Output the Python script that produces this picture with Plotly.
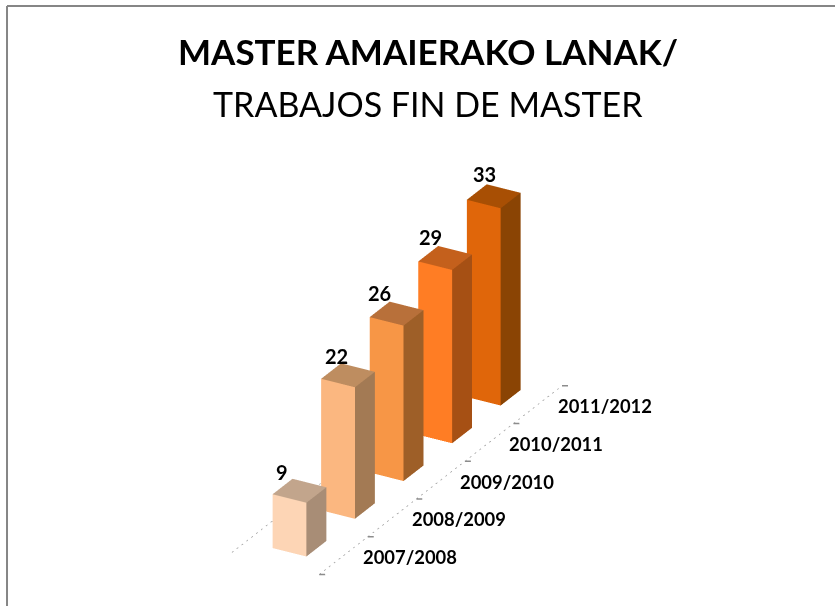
import math
import plotly.graph_objects as go

CATEGORIES = ["2007/2008", "2008/2009", "2009/2010", "2010/2011", "2011/2012"]
VALUES = [9, 22, 26, 29, 33]
FRONT = ["#FDD5B5", "#FBB780", "#F79646", "#FF7D24", "#E0660A"]
SIDE = ["#A88D76", "#A37A54", "#9E5F28", "#A65014", "#8A4404"]
TOP = ["#C2A58C", "#BE8D60", "#B8703A", "#C4601C", "#A84F04"]
TITLE_1 = "MASTER AMAIERAKO LANAK/"
TITLE_2 = "TRABAJOS FIN DE MASTER"

GAP = 0.295
DEPTH = 0.41
X_L, X_R = -0.78, 1.80
XR = [-0.9, 2.0]
YR = [-0.05, 5.1]
ZR = [0, 40]
PX = (39.1, 98.7, 6.69)
EYE_D = 1.0
phi = math.radians(26.2)
beta = math.radians(60.4)
LABEL_DX = [-17, -11, -17, -15, -9]
LABEL_DY = [19, 19, 20, 21, 22]

fig = go.Figure()
FACES = [(0, 1, 2), (0, 2, 3), (1, 5, 6), (1, 6, 2), (3, 2, 6), (3, 6, 7)]
for i, v in enumerate(VALUES):
    y0, y1 = i + GAP, i + GAP + DEPTH
    xs = [0, 1, 1, 0, 0, 1, 1, 0]
    ys = [y0, y0, y0, y0, y1, y1, y1, y1]
    zs = [0, 0, v, v, 0, 0, v, v]
    fig.add_trace(go.Mesh3d(
        x=xs, y=ys, z=zs,
        i=[f[0] for f in FACES], j=[f[1] for f in FACES], k=[f[2] for f in FACES],
        facecolor=[FRONT[i]] * 2 + [SIDE[i]] * 2 + [TOP[i]] * 2,
        flatshading=True,
        lighting=dict(ambient=1, diffuse=0, specular=0, fresnel=0, roughness=1),
        hoverinfo="skip", showscale=False))

n = len(CATEGORIES)
for xv in (X_L, X_R):
    fig.add_trace(go.Scatter3d(x=[xv, xv], y=[0, n], z=[0, 0], mode="lines",
                               line=dict(color="#A0A0A0", width=1.5, dash="dash"),
                               hoverinfo="skip", showlegend=False))
for t in range(n + 1):
    fig.add_trace(go.Scatter3d(x=[X_R, X_R + 0.1335], y=[t, t + 0.03], z=[0, 0], mode="lines",
                               line=dict(color="#8C8C8C", width=3),
                               hoverinfo="skip", showlegend=False))

ann = []
for i, v in enumerate(VALUES):
    ann.append(dict(x=0.5, y=i + GAP + DEPTH / 2, z=v, text="<b>%d</b>" % v, showarrow=False,
                    xshift=LABEL_DX[i], yshift=LABEL_DY[i],
                    font=dict(family="Lato", size=20, color="#000000")))
    ann.append(dict(x=X_R, y=i + 0.5, z=0, text="<b>%s</b>" % CATEGORIES[i], showarrow=False,
                    xshift=67, yshift=-1.5, font=dict(family="Lato", size=18.4, color="#000000")))

k = 258.0
fig.update_layout(
    width=835, height=606, margin=dict(l=0, r=0, t=0, b=0), showlegend=False,
    paper_bgcolor="white",
    scene=dict(
        domain=dict(x=[0, 0.9566], y=[0, 0.849]),
        xaxis=dict(visible=False, range=XR), yaxis=dict(visible=False, range=YR),
        zaxis=dict(visible=False, range=ZR),
        bgcolor="rgba(0,0,0,0)", aspectmode="manual",
        aspectratio=dict(x=PX[0] * (XR[1] - XR[0]) / k, y=PX[1] * (YR[1] - YR[0]) / k,
                         z=PX[2] * (ZR[1] - ZR[0]) / k),
        camera=dict(projection=dict(type="orthographic"), up=dict(x=0, y=0, z=1),
                    center=dict(x=0, y=0, z=0),
                    eye=dict(x=EYE_D * math.cos(phi) * math.cos(beta),
                             y=-EYE_D * math.cos(phi) * math.sin(beta),
                             z=EYE_D * math.sin(phi))),
        annotations=ann),
    shapes=[dict(type="line", xref="paper", yref="paper", x0=0.0084, x1=0.0084, y0=0, y1=0.99,
                 line=dict(color="#868686", width=2)),
            dict(type="line", xref="paper", yref="paper", x0=0.0084, x1=1, y0=0.99, y1=0.99,
                 line=dict(color="#868686", width=2))],
    annotations=[
        dict(xref="paper", yref="paper", x=0.5126, y=0.916, yanchor="middle", text="<b>%s</b>" % TITLE_1,
             showarrow=False, font=dict(family="Lato", size=35, color="#000000")),
        dict(xref="paper", yref="paper", x=0.5126, y=0.83, yanchor="middle", text=TITLE_2,
             showarrow=False, font=dict(family="Lato", size=34, color="#000000")),
    ])
fig.write_html("out.html", config=dict(displayModeBar=False),
               post_script="document.body.style.margin='0';document.body.style.overflow='hidden';")
